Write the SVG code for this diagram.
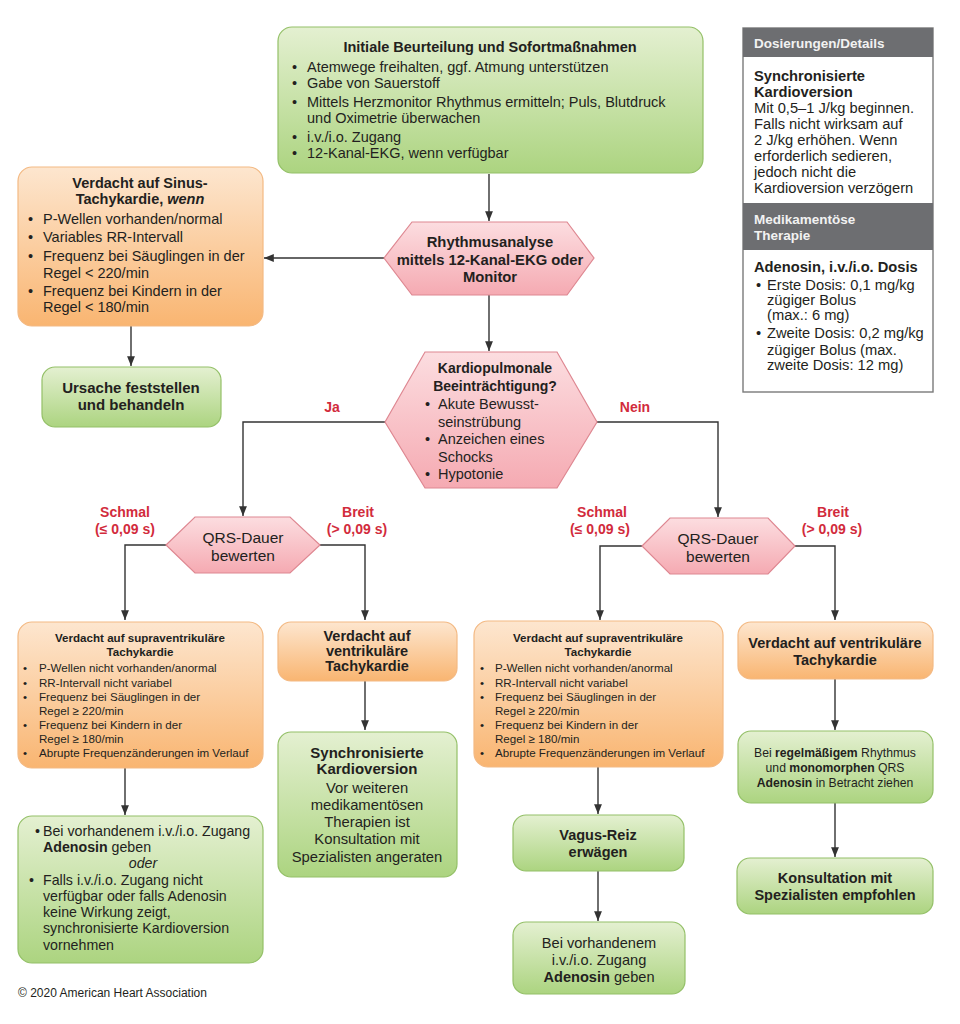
<svg xmlns="http://www.w3.org/2000/svg" width="960" height="1024" viewBox="0 0 960 1024">
<defs>
<linearGradient id="gGreen" x1="0" y1="0" x2="0" y2="1"><stop offset="0" stop-color="#e4f0d1"/><stop offset="1" stop-color="#acd480"/></linearGradient>
<linearGradient id="gOrange" x1="0" y1="0" x2="0" y2="1"><stop offset="0" stop-color="#fde6cf"/><stop offset="1" stop-color="#f9b571"/></linearGradient>
<linearGradient id="gPink" x1="0" y1="0" x2="0" y2="1"><stop offset="0" stop-color="#fcdde0"/><stop offset="1" stop-color="#f5aab2"/></linearGradient>
<marker id="arr" viewBox="0 0 10 10" refX="10" refY="5" markerWidth="7" markerHeight="7" orient="auto-start-reverse"><path d="M0,1 L10,5 L0,9 z" fill="#333"/></marker>
<style>
text{font-family:"Liberation Sans",Arial,sans-serif;fill:#231f20}
.green{fill:url(#gGreen);stroke:#94c068;stroke-width:1.2}
.orange{fill:url(#gOrange);stroke:#f3b983;stroke-width:1.2}
.pink{fill:url(#gPink);stroke:#de8791;stroke-width:1.2}
.b{font-weight:bold}
.c{text-anchor:middle}
.red{fill:#d22b3c;font-weight:bold;font-size:14px;text-anchor:middle}
.t14{font-size:14.5px}
.t12{font-size:11.6px}
.side{font-size:14.7px}
.hdr{fill:#f2f2f2;font-weight:bold;font-size:13.5px}
.conn{fill:none;stroke:#333;stroke-width:1.4}
</style>
</defs>
<rect width="960" height="1024" fill="#ffffff"/>

<g id="connectors">
<path class="conn" d="M489,174 V221" marker-end="url(#arr)"/>
<path class="conn" d="M384,258 H264" marker-end="url(#arr)"/>
<path class="conn" d="M489,295 V351" marker-end="url(#arr)"/>
<path class="conn" d="M131,326 V366" marker-end="url(#arr)"/>
<path class="conn" d="M385,422 H243 V516" marker-end="url(#arr)"/>
<path class="conn" d="M597,422 H718 V517" marker-end="url(#arr)"/>
<path class="conn" d="M166,545 H125 V620" marker-end="url(#arr)"/>
<path class="conn" d="M320,545 H365 V620" marker-end="url(#arr)"/>
<path class="conn" d="M642,546 H600 V620" marker-end="url(#arr)"/>
<path class="conn" d="M795,546 H835 V620" marker-end="url(#arr)"/>
<path class="conn" d="M125,768 V815" marker-end="url(#arr)"/>
<path class="conn" d="M365,681 V730" marker-end="url(#arr)"/>
<path class="conn" d="M598,767 V814" marker-end="url(#arr)"/>
<path class="conn" d="M835,679 V730" marker-end="url(#arr)"/>
<path class="conn" d="M598,871 V921" marker-end="url(#arr)"/>
<path class="conn" d="M835,803 V857" marker-end="url(#arr)"/>
</g>

<g id="labels">
<text class="red" x="332" y="412">Ja</text>
<text class="red" x="635" y="412">Nein</text>
<text class="red" x="125" y="517">Schmal</text>
<text class="red" x="125" y="534">(≤ 0,09 s)</text>
<text class="red" x="358" y="517">Breit</text>
<text class="red" x="357" y="534">(&gt; 0,09 s)</text>
<text class="red" x="602" y="517">Schmal</text>
<text class="red" x="600" y="534">(≤ 0,09 s)</text>
<text class="red" x="833" y="517">Breit</text>
<text class="red" x="832" y="534">(&gt; 0,09 s)</text>
</g>

<g id="node-initial">
<rect class="green" x="278" y="27" width="425" height="146" rx="14"/>
<text class="b c" x="490" y="52" font-size="14.5">Initiale Beurteilung und Sofortmaßnahmen</text>
<g class="t14">
<text x="292" y="72">•</text><text x="307" y="72">Atemwege freihalten, ggf. Atmung unterstützen</text>
<text x="292" y="88">•</text><text x="307" y="88">Gabe von Sauerstoff</text>
<text x="292" y="107">•</text><text x="307" y="107">Mittels Herzmonitor Rhythmus ermitteln; Puls, Blutdruck</text>
<text x="307" y="123">und Oximetrie überwachen</text>
<text x="292" y="142">•</text><text x="307" y="142">i.v./i.o. Zugang</text>
<text x="292" y="158">•</text><text x="307" y="158">12-Kanal-EKG, wenn verfügbar</text>
</g>
</g>

<g id="node-sidebar">
<rect x="743" y="28" width="190" height="364" fill="#ffffff" stroke="#7a7a7a" stroke-width="1.4"/>
<rect x="743" y="28" width="190" height="29" fill="#6d6e71"/>
<text class="hdr" x="754" y="48">Dosierungen/Details</text>
<text class="side b" x="754" y="81">Synchronisierte</text>
<text class="side b" x="754" y="97">Kardioversion</text>
<text class="side" x="754" y="113">Mit 0,5–1 J/kg beginnen.</text>
<text class="side" x="754" y="129">Falls nicht wirksam auf</text>
<text class="side" x="754" y="145">2 J/kg erhöhen. Wenn</text>
<text class="side" x="754" y="161">erforderlich sedieren,</text>
<text class="side" x="754" y="177">jedoch nicht die</text>
<text class="side" x="754" y="193">Kardioversion verzögern</text>
<rect x="743" y="203" width="190" height="47" fill="#6d6e71"/>
<text class="hdr" x="754" y="224">Medikamentöse</text>
<text class="hdr" x="754" y="240">Therapie</text>
<text class="side b" x="754" y="272">Adenosin, i.v./i.o. Dosis</text>
<text class="side" x="756" y="290">•</text><text class="side" x="767" y="290">Erste Dosis: 0,1 mg/kg</text>
<text class="side" x="767" y="305">zügiger Bolus</text>
<text class="side" x="767" y="320">(max.: 6 mg)</text>
<text class="side" x="756" y="338">•</text><text class="side" x="767" y="338">Zweite Dosis: 0,2 mg/kg</text>
<text class="side" x="767" y="355">zügiger Bolus (max.</text>
<text class="side" x="767" y="370">zweite Dosis: 12 mg)</text>
</g>

<g id="node-sinus">
<rect class="orange" x="18" y="167" width="245" height="159" rx="14"/>
<text class="b c" x="140" y="188" font-size="14.5">Verdacht auf Sinus-</text>
<text class="b c" x="140" y="204" font-size="14.5">Tachykardie, <tspan font-style="italic">wenn</tspan></text>
<g class="t14">
<text x="28" y="224">•</text><text x="43" y="224">P-Wellen vorhanden/normal</text>
<text x="28" y="242">•</text><text x="43" y="242">Variables RR-Intervall</text>
<text x="28" y="261">•</text><text x="43" y="261">Frequenz bei Säuglingen in der</text>
<text x="43" y="278">Regel &lt; 220/min</text>
<text x="28" y="296">•</text><text x="43" y="296">Frequenz bei Kindern in der</text>
<text x="43" y="312">Regel &lt; 180/min</text>
</g>
</g>

<g id="node-ursache">
<rect class="green" x="42" y="367" width="179" height="60" rx="13"/>
<text class="b c" x="131" y="393" font-size="15">Ursache feststellen</text>
<text class="b c" x="131" y="410" font-size="15">und behandeln</text>
</g>

<g id="node-rhythmus">
<polygon class="pink" points="384,258 412,222 567,222 594,258 567,295 412,295"/>
<text class="b c" x="490" y="247" font-size="14.8">Rhythmusanalyse</text>
<text class="b c" x="490" y="265" font-size="14.8">mittels 12-Kanal-EKG oder</text>
<text class="b c" x="490" y="282" font-size="14.8">Monitor</text>
</g>

<g id="node-kardiopulmonal">
<polygon class="pink" points="385,422 425,352 557,352 597,422 557,488 425,488"/>
<text class="b c" x="495" y="373" font-size="14">Kardiopulmonale</text>
<text class="b c" x="495" y="391" font-size="14">Beeinträchtigung?</text>
<g class="t14">
<text x="425" y="409">•</text><text x="438" y="409">Akute Bewusst-</text>
<text x="438" y="427">seinstrübung</text>
<text x="425" y="444">•</text><text x="438" y="444">Anzeichen eines</text>
<text x="438" y="462">Schocks</text>
<text x="425" y="479">•</text><text x="438" y="479">Hypotonie</text>
</g>
</g>

<g id="node-qrs-left">
<polygon class="pink" points="166,545 195,517 290,517 320,545 290,573 195,573"/>
<text class="c" x="243" y="543" font-size="15.5">QRS-Dauer</text>
<text class="c" x="243" y="561" font-size="15.5">bewerten</text>
</g>

<g id="node-qrs-right">
<polygon class="pink" points="642,546 670,518 768,518 795,546 768,574 670,574"/>
<text class="c" x="718" y="544" font-size="15.5">QRS-Dauer</text>
<text class="c" x="718" y="562" font-size="15.5">bewerten</text>
</g>

<g id="node-svt-left">
<rect class="orange" x="18" y="622" width="245" height="146" rx="14"/>
<text class="b c" x="140" y="642" font-size="11.6">Verdacht auf supraventrikuläre</text>
<text class="b c" x="140" y="656" font-size="11.6">Tachykardie</text>
<g class="t12">
<text x="23" y="672">•</text><text x="39" y="672">P-Wellen nicht vorhanden/anormal</text>
<text x="23" y="687">•</text><text x="39" y="687">RR-Intervall nicht variabel</text>
<text x="23" y="701">•</text><text x="39" y="701">Frequenz bei Säuglingen in der</text>
<text x="39" y="715">Regel ≥ 220/min</text>
<text x="23" y="729">•</text><text x="39" y="729">Frequenz bei Kindern in der</text>
<text x="39" y="743">Regel ≥ 180/min</text>
<text x="23" y="757">•</text><text x="39" y="757">Abrupte Frequenzänderungen im Verlauf</text>
</g>
</g>

<g id="node-vt-left">
<rect class="orange" x="278" y="622" width="179" height="59" rx="13"/>
<text class="b c" x="367" y="641" font-size="14.5">Verdacht auf</text>
<text class="b c" x="367" y="656" font-size="14.5">ventrikuläre</text>
<text class="b c" x="367" y="671" font-size="14.5">Tachykardie</text>
</g>

<g id="node-sync">
<rect class="green" x="278" y="732" width="179" height="145" rx="13"/>
<text class="b c" x="367" y="758" font-size="15">Synchronisierte</text>
<text class="b c" x="367" y="774" font-size="15">Kardioversion</text>
<g font-size="14.8">
<text class="c" x="367" y="793">Vor weiteren</text>
<text class="c" x="367" y="810">medikamentösen</text>
<text class="c" x="367" y="827">Therapien ist</text>
<text class="c" x="367" y="844">Konsultation mit</text>
<text class="c" x="367" y="862">Spezialisten angeraten</text>
</g>
</g>

<g id="node-adenosin-left">
<rect class="green" x="18" y="816" width="245" height="147" rx="14"/>
<g font-size="14.2">
<text x="35" y="836">•</text><text x="43" y="836">Bei vorhandenem i.v./i.o. Zugang</text>
<text x="43" y="852"><tspan font-weight="bold">Adenosin</tspan> geben</text>
<text class="c" x="143" y="868" font-style="italic">oder</text>
<text x="29" y="885">•</text><text x="43" y="885">Falls i.v./i.o. Zugang nicht</text>
<text x="43" y="901">verfügbar oder falls Adenosin</text>
<text x="43" y="917">keine Wirkung zeigt,</text>
<text x="43" y="933">synchronisierte Kardioversion</text>
<text x="43" y="950">vornehmen</text>
</g>
</g>

<g id="node-svt-right">
<rect class="orange" x="474" y="621" width="249" height="146" rx="14"/>
<text class="b c" x="598" y="642" font-size="11.6">Verdacht auf supraventrikuläre</text>
<text class="b c" x="598" y="656" font-size="11.6">Tachykardie</text>
<g class="t12">
<text x="480" y="672">•</text><text x="495" y="672">P-Wellen nicht vorhanden/anormal</text>
<text x="480" y="687">•</text><text x="495" y="687">RR-Intervall nicht variabel</text>
<text x="480" y="701">•</text><text x="495" y="701">Frequenz bei Säuglingen in der</text>
<text x="495" y="715">Regel ≥ 220/min</text>
<text x="480" y="729">•</text><text x="495" y="729">Frequenz bei Kindern in der</text>
<text x="495" y="743">Regel ≥ 180/min</text>
<text x="480" y="757">•</text><text x="495" y="757">Abrupte Frequenzänderungen im Verlauf</text>
</g>
</g>

<g id="node-vt-right">
<rect class="orange" x="738" y="622" width="195" height="57" rx="13"/>
<text class="b c" x="835" y="648" font-size="14.5">Verdacht auf ventrikuläre</text>
<text class="b c" x="835" y="665" font-size="14.5">Tachykardie</text>
</g>

<g id="node-vagus">
<rect class="green" x="513" y="815" width="171" height="56" rx="13"/>
<text class="b c" x="598" y="840" font-size="14.5">Vagus-Reiz</text>
<text class="b c" x="598" y="857" font-size="14.5">erwägen</text>
</g>

<g id="node-adenosin-right-bottom">
<rect class="green" x="513" y="922" width="172" height="72" rx="13"/>
<g font-size="14.6">
<text class="c" x="599" y="948">Bei vorhandenem</text>
<text class="c" x="599" y="965">i.v./i.o. Zugang</text>
<text class="c" x="599" y="982"><tspan font-weight="bold">Adenosin</tspan> geben</text>
</g>
</g>

<g id="node-adenosin-consider">
<rect class="green" x="738" y="731" width="195" height="72" rx="13"/>
<g font-size="12.2">
<text class="c" x="835" y="757">Bei <tspan font-weight="bold">regelmäßigem</tspan> Rhythmus</text>
<text class="c" x="835" y="772">und <tspan font-weight="bold">monomorphen</tspan> QRS</text>
<text class="c" x="835" y="787"><tspan font-weight="bold">Adenosin</tspan> in Betracht ziehen</text>
</g>
</g>

<g id="node-konsultation">
<rect class="green" x="737" y="858" width="196" height="56" rx="13"/>
<text class="b c" x="835" y="883" font-size="14.5">Konsultation mit</text>
<text class="b c" x="835" y="900" font-size="14.5">Spezialisten empfohlen</text>
</g>

<text x="18" y="997" font-size="12">© 2020 American Heart Association</text>
</svg>
